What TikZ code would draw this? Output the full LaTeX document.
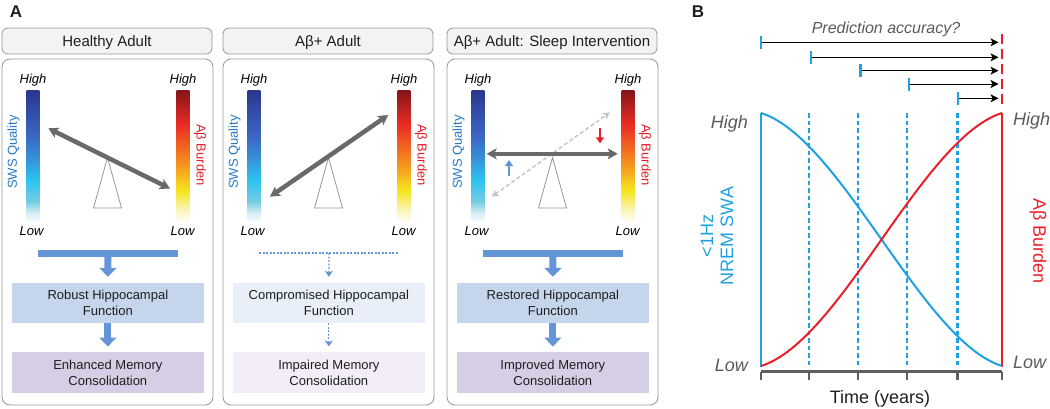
\documentclass[tikz,border=0pt]{standalone}
\usepackage{fontspec}
\setmainfont{Liberation Sans}
\usetikzlibrary{arrows.meta}
\definecolor{boxgray}{RGB}{150,150,150}
\definecolor{hdrfill}{RGB}{243,243,243}
\definecolor{beamgray}{RGB}{105,105,105}
\definecolor{fulcgray}{RGB}{150,150,150}
\definecolor{abblue}{RGB}{100,150,215}
\definecolor{swstext}{RGB}{35,120,200}
\definecolor{abtext}{RGB}{222,30,40}
\definecolor{robfill}{RGB}{197,214,236}
\definecolor{enhfill}{RGB}{214,206,228}
\definecolor{compfill}{RGB}{233,239,248}
\definecolor{impfill}{RGB}{242,237,246}
\definecolor{bcyan}{RGB}{30,160,225}
\definecolor{bred}{RGB}{234,30,40}
\definecolor{lblgray}{RGB}{90,90,90}
\definecolor{axgray}{RGB}{95,95,95}
\definecolor{ghost}{RGB}{195,195,195}
\definecolor{txt}{RGB}{30,30,30}
\pgfdeclareverticalshading{swsshade}{100bp}{rgb(0bp)=(1,1,1); rgb(25bp)=(1,1,1); rgb(29bp)=(0.82,0.93,0.96); rgb(33bp)=(0.47,0.80,0.89); rgb(41bp)=(0.17,0.77,0.94); rgb(50bp)=(0.22,0.55,0.84); rgb(58bp)=(0.23,0.40,0.76); rgb(75bp)=(0.16,0.21,0.55); rgb(100bp)=(0.16,0.21,0.55)}
\pgfdeclareverticalshading{abshade}{100bp}{rgb(0bp)=(1,1,1); rgb(25bp)=(1,1,1); rgb(30bp)=(0.98,0.96,0.72); rgb(37bp)=(0.96,0.90,0.12); rgb(48bp)=(0.96,0.55,0.12); rgb(62bp)=(0.92,0.17,0.14); rgb(75bp)=(0.52,0.08,0.10); rgb(100bp)=(0.52,0.08,0.10)}
\newcommand\fhdr{\fontsize{15}{18}\selectfont}
\newcommand\fpanel{\fontsize{13}{15.7}\selectfont}
\newcommand\fbig{\fontsize{18}{20}\selectfont}
\newcommand\fpred{\fontsize{16}{19}\selectfont}
\newcommand\flet{\fontsize{17}{20}\selectfont\bfseries}
\begin{document}
\begin{tikzpicture}[x=1pt,y=-1pt,
  hdr/.style={draw=boxgray, line width=0.8pt, fill=hdrfill, rounded corners=6pt,
    minimum width=210pt, minimum height=26pt, inner sep=0pt, font=\fhdr, text=txt,
    text height=12.5pt, text depth=1.5pt},
  body/.style={draw=boxgray, line width=0.8pt, rounded corners=8pt,
    minimum width=211pt, minimum height=346pt, inner sep=0pt},
  barnode/.style={shade, minimum width=12.6pt, minimum height=133pt, inner sep=0pt},
  hilo/.style={font=\fpanel\itshape, text=black, inner sep=0pt},
  swslbl/.style={font=\fpanel, text=swstext, rotate=90, inner sep=0pt},
  ablbl/.style={font=\fpanel, text=abtext, rotate=-90, inner sep=0pt},
  fulc/.style={draw=fulcgray, line width=0.8pt, line join=miter},
  beam/.style={draw=beamgray, line width=4.5pt,
    {Stealth[length=10pt,width=11pt,inset=2.5pt]}-{Stealth[length=10pt,width=11pt,inset=2.5pt]}},
  ghostarrow/.style={draw=ghost, line width=1.4pt, dash pattern=on 4pt off 2.5pt,
    {Stealth[length=7pt,width=7pt,inset=2pt]}-{Stealth[length=7pt,width=7pt,inset=2pt]}},
  smallarrow/.style={line width=2.5pt, -{Triangle[length=6pt,width=8pt]}},
  fbox/.style={minimum width=192.3pt, minimum height=40.3pt, inner sep=0pt,
    font=\fpanel, text=txt, align=center},
  fbox2/.style={fbox, minimum height=41.6pt},
  thickbar/.style={draw=abblue, line width=7pt},
  bigarrow/.style={draw=abblue, line width=7pt, -{Triangle[length=9pt,width=17pt]}},
  dotline/.style={draw=abblue, line width=1.2pt, dash pattern=on 2pt off 1.5pt},
  dotarrow/.style={dotline, -{Stealth[length=6pt,width=8pt,inset=1.5pt]}},
  blbl/.style={font=\fbig\itshape, text=lblgray, inner sep=0pt},
  bcurve/.style={line width=2pt},
  bax/.style={line width=2.2pt},
  bdash/.style={draw=bcyan, line width=2.2pt, dash pattern=on 4.5pt off 3pt},
  tick/.style={draw=axgray, line width=2.2pt},
  axisline/.style={draw=axgray, line width=2.5pt},
  predarrow/.style={draw=black, line width=0.9pt, shorten >=3.5pt,
    -{Stealth[length=8pt,width=8pt,inset=2pt]}},
  starttick/.style={draw=bcyan, line width=2.2pt},
  reddash/.style={draw=bred, line width=2.2pt, dash pattern=on 10pt off 5pt}
]
\useasboundingbox (0,0) rectangle (1050,408);

% panel letters
\node[font=\flet, text=txt, anchor=base, inner sep=0pt] (labA) at (16,17) {A};
\node[font=\flet, text=txt, anchor=base, inner sep=0pt] (labB) at (698,17) {B};

% common parts of the three panels
\foreach \i/\ox/\ttl in {1/0/Healthy Adult, 2/221/Aβ+ Adult, 3/445/Aβ+ Adult: Sleep Intervention}{
  \node[hdr] (hdr\i) at (107+\ox,41) {\ttl};
  \node[body] (body\i) at (107.5+\ox,232) {};
  \node[barnode, shading=swsshade] (sws\i) at (33+\ox,156.5) {};
  \node[barnode, shading=abshade] (ab\i) at (183+\ox,156.5) {};
  \node[hilo, anchor=base] (hiL\i) at (33+\ox,83.3) {High};
  \node[hilo, anchor=base] (hiR\i) at (183+\ox,83.3) {High};
  \node[hilo, anchor=base] (loL\i) at (31.5+\ox,235) {Low};
  \node[hilo, anchor=base] (loR\i) at (182.5+\ox,235) {Low};
  \node[swslbl] (swsT\i) at (13.5+\ox,152) {SWS Quality};
  \node[ablbl] (abT\i) at (200+\ox,155) {Aβ Burden};
  \draw[fulc] (107.5+\ox,157.5) -- (93.5+\ox,208) -- (121.5+\ox,208) -- cycle;
  \coordinate (bl\i) at (38+\ox,253);
  \coordinate (br\i) at (178+\ox,253);
  \coordinate (bm\i) at (108+\ox,253);
}

% panel 1: healthy
\coordinate (b1a) at (48.3,128.3);
\coordinate (b1b) at (170,188.5);
\draw[beam] (b1a) -- (b1b);
\node[fbox, fill=robfill] (hf1) at (107.85,302.85) {Robust Hippocampal\\Function};
\node[fbox2, fill=enhfill] (mc1) at (107.85,372.5) {Enhanced Memory\\Consolidation};
\draw[thickbar] (bl1) -- (br1);
\draw[bigarrow, shorten >=5.7pt] (bm1) -- (hf1.north);
\draw[bigarrow, shorten >=5pt] (hf1.south) -- (mc1.north);

% panel 2: Abeta+
\coordinate (b2a) at (270,196.7);
\coordinate (b2b) at (388.3,115);
\draw[beam] (b2a) -- (b2b);
\node[fbox, fill=compfill] (hf2) at (328.85,302.85) {Compromised Hippocampal\\Function};
\node[fbox2, fill=impfill] (mc2) at (328.85,372.5) {Impaired Memory\\Consolidation};
\draw[dotline] (bl2) -- (br2);
\draw[dotarrow, shorten >=5.7pt] (bm2) -- (hf2.north);
\draw[dotarrow, shorten >=5pt] (hf2.south) -- (mc2.north);

% panel 3: sleep intervention
\coordinate (g3a) at (491.7,196.7);
\coordinate (g3b) at (610,112.3);
\draw[ghostarrow] (g3a) -- (g3b);
\coordinate (b3a) at (486.7,153.8);
\coordinate (b3b) at (617.7,153.8);
\draw[beam] (b3a) -- (b3b);
\coordinate (up3a) at (509,176);
\coordinate (up3b) at (509,160);
\draw[smallarrow, draw=abblue, color=abblue] (up3a) -- (up3b);
\coordinate (dn3a) at (600,128.3);
\coordinate (dn3b) at (600,143.3);
\draw[smallarrow, draw=bred, color=bred] (dn3a) -- (dn3b);
\node[fbox, fill=robfill] (hf3) at (552.85,302.85) {Restored Hippocampal\\Function};
\node[fbox2, fill=enhfill] (mc3) at (552.85,372.5) {Improved Memory\\Consolidation};
\draw[thickbar] (bl3) -- (br3);
\draw[bigarrow, shorten >=5.7pt] (bm3) -- (hf3.north);
\draw[bigarrow, shorten >=5pt] (hf3.south) -- (mc3.north);

% ===== panel B =====
\node[font=\fpred\itshape, text=lblgray, anchor=base, inner sep=0pt] (pred) at (886,33.3) {Prediction accuracy?};
\foreach \x/\y [count=\k] in {761/42.3, 811/57.3, 860.5/70.7, 909/84, 958.3/98.3}{
  \coordinate (as\k) at (\x,\y);
  \coordinate (ae\k) at (1002,\y);
  \draw[predarrow] (as\k) -- (ae\k);
  \draw[starttick] (\x,\y-6.5) -- (\x,\y+6.5);
}
\coordinate (rdt) at (1002,34);
\coordinate (rdb) at (1002,106.5);
\draw[reddash] (rdt) -- (rdb);

% axes
\coordinate (ltop) at (761,113);
\coordinate (lbot) at (761,367);
\coordinate (rtop) at (1002,113);
\coordinate (rbot) at (1002,367);
\draw[bax, draw=bcyan] (ltop) -- (lbot);
\draw[bax, draw=bred] (rtop) -- (rbot);
\foreach \x [count=\k] in {809,858,907,957.5}{
  \coordinate (dt\k) at (\x,113);
  \coordinate (db\k) at (\x,367);
  \draw[bdash] (dt\k) -- (db\k);
}
\foreach \x [count=\k] in {761,809,858,907,957.5,1002}{
  \coordinate (tk\k) at (\x,371.5);
  \coordinate (tkb\k) at (\x,380);
  \draw[tick] (tk\k) -- (tkb\k);
}
\draw[axisline] (tk1) -- (tk6);

% curves
\draw[bcurve, draw=bcyan] (ltop) .. controls (841.3,138.3) and (921.7,340.7) .. (1002,366);
\draw[bcurve, draw=bred] (761,366) .. controls (841.3,340.7) and (921.7,138.3) .. (rtop);

% labels
\node[blbl, anchor=base east] (bhiL) at (748,128.3) {High};
\node[blbl, anchor=base east] (bloL) at (748,371.7) {Low};
\node[blbl, anchor=base west] (bhiR) at (1013,125) {High};
\node[blbl, anchor=base west] (bloR) at (1013,368.3) {Low};
\node[font=\fbig, text=bcyan, rotate=90, align=center, inner sep=0pt] (swaT) at (717,236) {<1Hz\\NREM SWA};
\node[font=\fbig, text=bred, rotate=-90, inner sep=0pt] (abB) at (1038,241) {Aβ Burden};
\node[font=\fbig, text=txt, anchor=base, inner sep=0pt] (timeT) at (880,403.3) {Time (years)};
\end{tikzpicture}
\end{document}
